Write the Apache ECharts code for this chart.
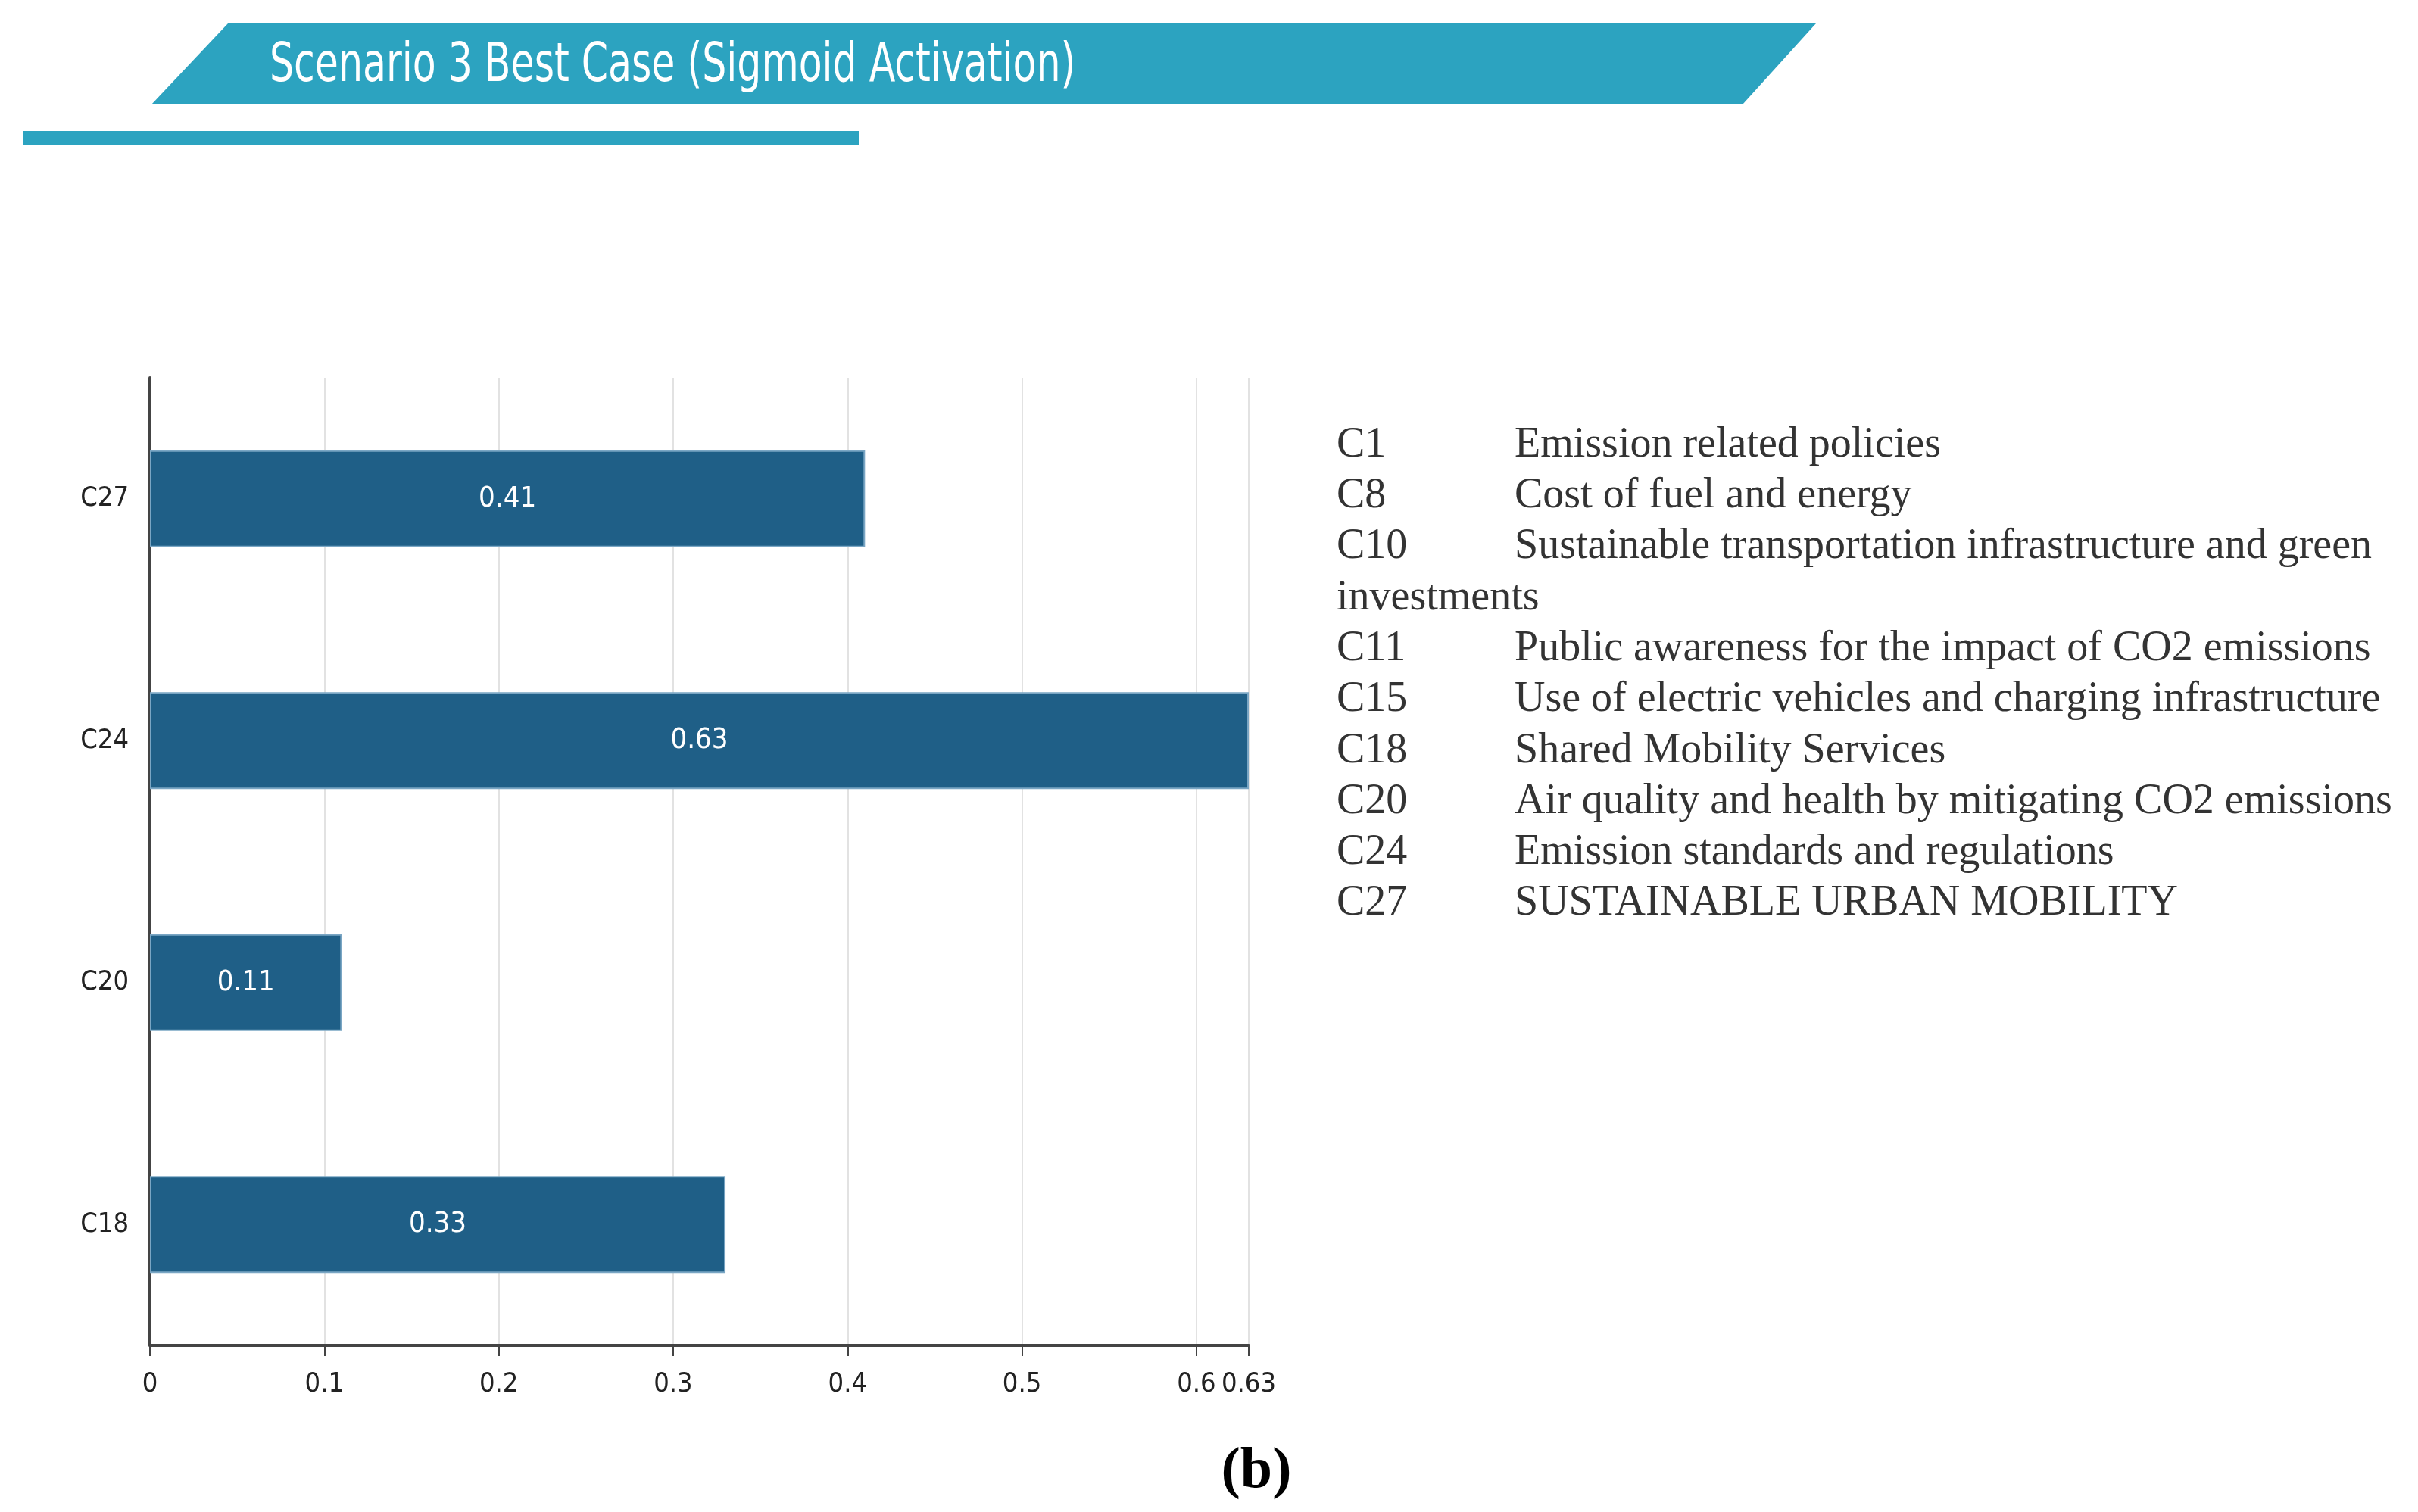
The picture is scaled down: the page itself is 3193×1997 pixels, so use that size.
<!DOCTYPE html>
<html>
<head>
<meta charset="utf-8">
<script src="https://cdn.jsdelivr.net/npm/echarts@6/dist/echarts.min.js"></script>
<style>
html,body{margin:0;padding:0;background:#fff;}
#c{width:3193px;height:1997px;}
</style>
</head>
<body>
<div id="c"></div>
<script>
// ---- data ----
const titleText = 'Scenario 3 Best Case (Sigmoid Activation)';
const categories = ['C18', 'C20', 'C24', 'C27'];
const values = [0.33, 0.11, 0.63, 0.41];
const axisMax = 0.63;
const legendCodes = ['C1', 'C8', 'C10', '', 'C11', 'C15', 'C18', 'C20', 'C24', 'C27'];
const legendTexts = [
  'Emission related policies',
  'Cost of fuel and energy',
  'Sustainable transportation infrastructure and green',
  'investments',
  'Public awareness for the impact of CO2 emissions',
  'Use of electric vehicles and charging infrastructure',
  'Shared Mobility Services',
  'Air quality and health by mitigating CO2 emissions',
  'Emission standards and regulations',
  'SUSTAINABLE URBAN MOBILITY'
];
const panelLabel = '(b)';

const narrow = "'Liberation Sans Narrow','DejaVu Sans Condensed','Roboto',sans-serif";
const serif = "'Liberation Serif','DejaVu Serif',serif";

const chart = echarts.init(document.getElementById('c'), null, {renderer: 'canvas'});

const graphics = [
  {
    type: 'polygon',
    shape: {points: [[301, 31], [2398, 31], [2301, 138], [200, 138]]},
    style: {fill: '#2ca3c0'}
  },
  {
    type: 'rect',
    shape: {x: 31, y: 173, width: 1103, height: 18},
    style: {fill: '#2ca3c0'}
  },
  {
    type: 'text',
    x: 356, y: 88, scaleX: 0.78,
    style: {text: titleText, fill: '#ffffff', font: "72px " + narrow, textVerticalAlign: 'middle'}
  },
  {
    type: 'text',
    x: 1659, y: 1944,
    style: {text: panelLabel, fill: '#000', font: "bold 76px " + serif, textAlign: 'center', textVerticalAlign: 'middle'}
  }
];
legendCodes.forEach(function (code, i) {
  const y = 588 + i * 67.3;
  const font = "56px " + serif;
  if (code) {
    graphics.push({type: 'text', x: 1765, y: y,
      style: {text: code, fill: '#333', font: font, textVerticalAlign: 'middle'}});
    graphics.push({type: 'text', x: 2000, y: y,
      style: {text: legendTexts[i], fill: '#333', font: font, textVerticalAlign: 'middle'}});
  } else {
    graphics.push({type: 'text', x: 1765, y: y,
      style: {text: legendTexts[i], fill: '#333', font: font, textVerticalAlign: 'middle'}});
  }
});

chart.setOption({
  animation: false,
  backgroundColor: '#ffffff',
  grid: {left: 198, right: 3193 - 1649, top: 499, bottom: 1997 - 1777, containLabel: false},
  xAxis: {
    type: 'value',
    min: 0,
    max: axisMax,
    interval: 0.1,
    axisLine: {show: true, lineStyle: {color: '#444', width: 4}},
    axisTick: {show: true, length: 14, lineStyle: {color: '#444', width: 2}},
    axisLabel: {color: '#222', fontSize: 36, fontFamily: narrow, margin: 34, showMaxLabel: true, showMinLabel: true},
    splitLine: {show: true, lineStyle: {color: '#e2e2e2', width: 2}}
  },
  yAxis: {
    type: 'category',
    data: categories,
    axisLine: {show: true, lineStyle: {color: '#444', width: 4}},
    axisTick: {show: false},
    axisLabel: {color: '#222', fontSize: 36, fontFamily: narrow, margin: 28},
    splitLine: {show: false}
  },
  series: [{
    type: 'bar',
    data: values,
    barWidth: '40%',
    itemStyle: {color: '#1f5f87', borderColor: '#7aa6c4', borderWidth: 2},
    label: {show: true, position: 'inside', color: '#ffffff', fontSize: 38, fontFamily: narrow,
      formatter: function (p) { return p.value.toFixed(2); }}
  }],
  graphic: graphics
});
</script>
</body>
</html>
